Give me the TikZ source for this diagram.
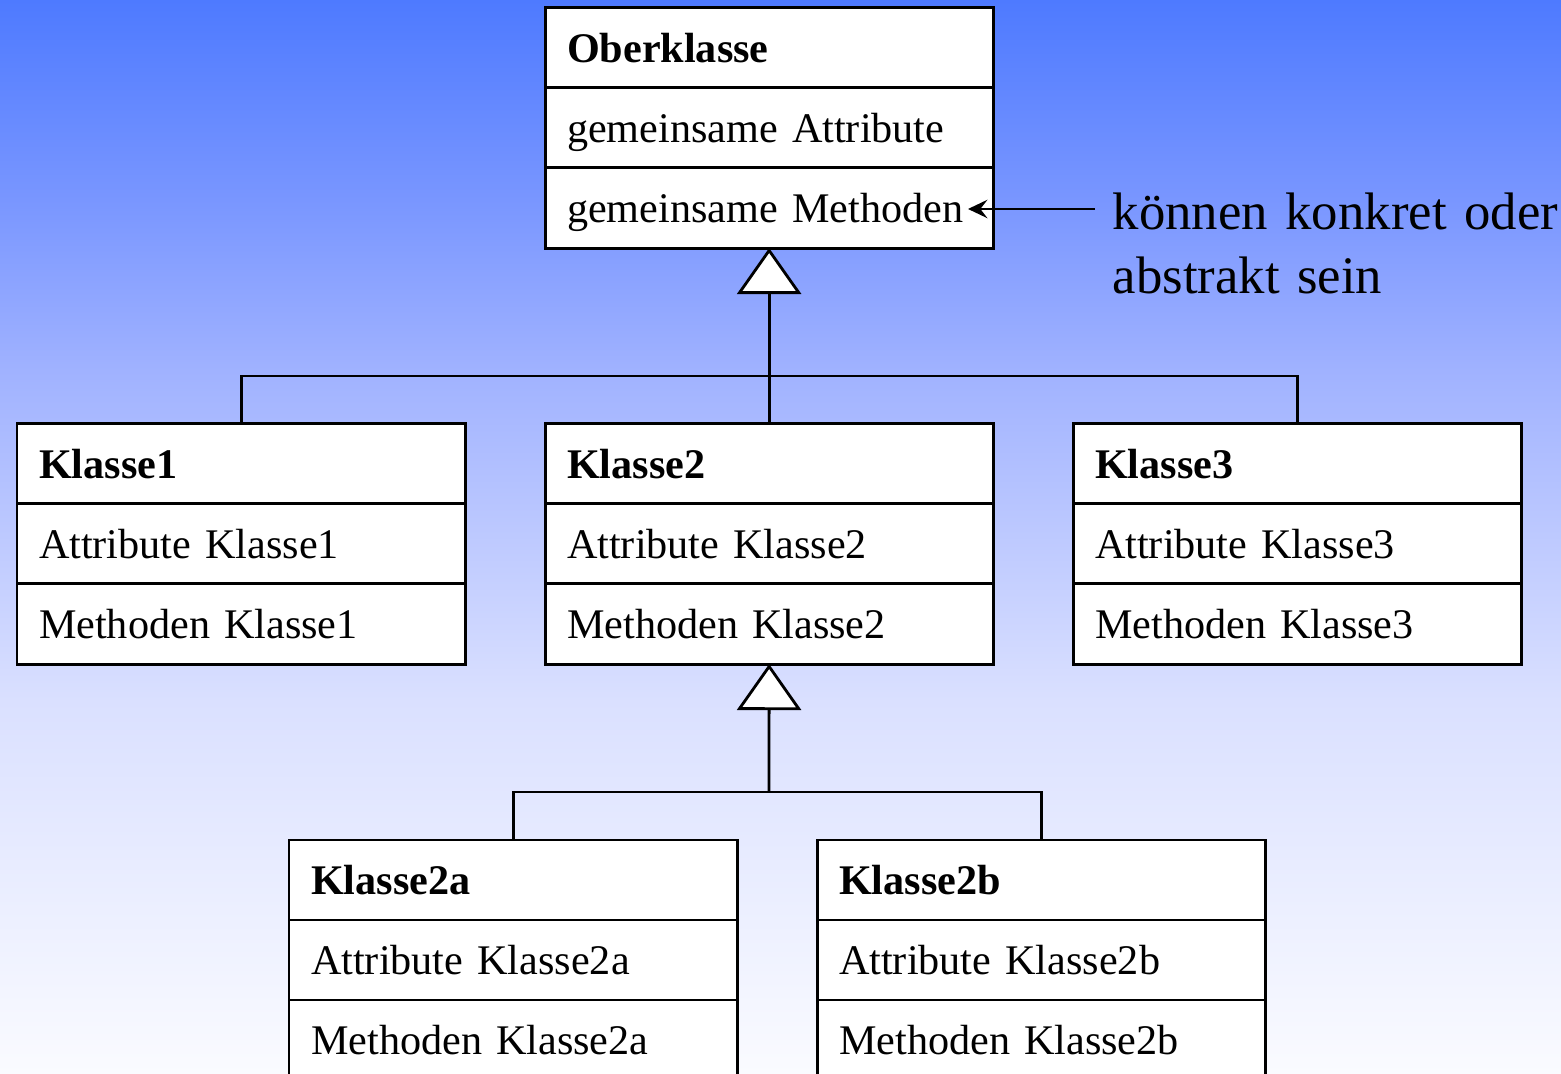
\documentclass[tikz,border=0pt]{standalone}
\usepackage{fontspec}
\setmainfont{Liberation Serif}
\usetikzlibrary{arrows.meta}

% background colour ramp, bottom to top (path spans 25bp..75bp)
\definecolor{bgA}{RGB}{250,251,255}
\definecolor{bgB}{RGB}{218,224,255}
\definecolor{bgC}{RGB}{160,178,255}
\definecolor{bgD}{RGB}{121,150,255}
\definecolor{bgE}{RGB}{78,122,255}
\pgfdeclareverticalshading{bgramp}{100bp}{%
  color(0bp)=(bgA); color(25bp)=(bgA); color(42.4bp)=(bgB); color(57.75bp)=(bgC);
  color(65.7bp)=(bgD); color(75bp)=(bgE); color(100bp)=(bgE)}

\tikzset{
  row/.style={draw=black, line width=0.85pt, fill=white, anchor=north west,
    outer sep=0pt,
    minimum width=4.48cm, minimum height=0.8cm, inner ysep=0pt, inner xsep=0.22cm,
    text width=4.04cm, align=left, text height=0.54cm, text depth=0.26cm,
    font=\fontsize{12}{14}\selectfont},
  titlerow/.style={row, font=\fontsize{12}{14}\selectfont\bfseries},
  link/.style={draw=black, line width=0.8pt},
  inherit/.style={link, -{Triangle[open, fill=white, length=0.46cm, width=0.64cm]}},
  note/.style={anchor=base west, inner sep=0pt, text width=4.6cm, align=left,
    font=\fontsize{15}{17.93}\selectfont}
}

\begin{document}
\begin{tikzpicture}[x=0.01cm, y=-0.01cm]
  \useasboundingbox (0,0) rectangle (1561,1074);
  \clip (0,0) rectangle (1561,1074);
  \shade[shading=bgramp] (0,0) rectangle (1561,1074);

  % superclass
  \node[titlerow] (ot) at (545,8)   {Oberklasse};
  \node[row]      (oa) at (545,88)  {gemeinsame Attribute};
  \node[row]      (om) at (545,168) {gemeinsame Methoden};

  % first level subclasses
  \node[titlerow] (k1t) at (17,424)  {Klasse1};
  \node[row]      (k1a) at (17,504)  {Attribute Klasse1};
  \node[row]      (k1m) at (17,584)  {Methoden Klasse1};

  \node[titlerow] (k2t) at (545,424) {Klasse2};
  \node[row]      (k2a) at (545,504) {Attribute Klasse2};
  \node[row]      (k2m) at (545,584) {Methoden Klasse2};

  \node[titlerow] (k3t) at (1073,424) {Klasse3};
  \node[row]      (k3a) at (1073,504) {Attribute Klasse3};
  \node[row]      (k3m) at (1073,584) {Methoden Klasse3};

  % second level subclasses
  \node[titlerow] (k2at) at (289,840)  {Klasse2a};
  \node[row]      (k2aa) at (289,920)  {Attribute Klasse2a};
  \node[row]      (k2am) at (289,1000) {Methoden Klasse2a};

  \node[titlerow] (k2bt) at (817,840)  {Klasse2b};
  \node[row]      (k2ba) at (817,920)  {Attribute Klasse2b};
  \node[row]      (k2bm) at (817,1000) {Methoden Klasse2b};

  % generalisation trees
  \coordinate (j1) at (769,376);
  \coordinate (j2) at (769,792);
  \draw[link] (k1t.north) |- (j1) -| (k3t.north);
  \draw[inherit] (k2t.north) -- (om.south);
  \draw[link] (k2at.north) |- (j2) -| (k2bt.north);
  \draw[inherit] (j2) -- (k2m.south);

  % annotation
  \node[note] (remark) at (1112,230) {können konkret oder\\abstrakt sein};
  \coordinate (rstart) at (1095,209);
  \coordinate (rtip) at (968,209);
  \draw[link, -{Stealth[length=5.5pt, width=5.2pt, inset=2pt]}] (rstart) -- (rtip);
\end{tikzpicture}
\end{document}
